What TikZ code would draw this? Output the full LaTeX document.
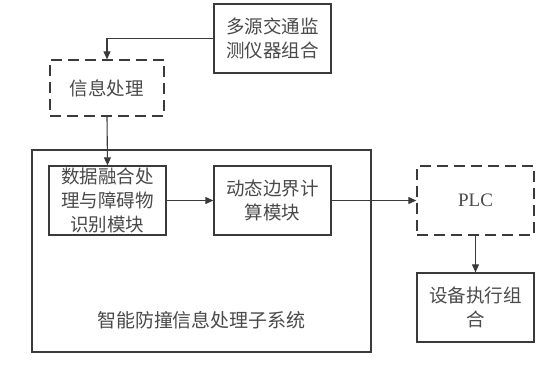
\documentclass[tikz,border=0pt]{standalone}
\usepackage{fontspec}
\newfontfamily\cjk{Noto Sans CJK SC}
\setmainfont{Liberation Serif}
\usetikzlibrary{arrows.meta}
\definecolor{linec}{HTML}{3A3A3A}
\definecolor{textc}{HTML}{4A4A4A}
\tikzset{
  box/.style={draw=linec, line width=1.3pt, minimum width=117pt, minimum height=69pt, inner sep=0pt, align=center, text=textc, font=\cjk\fontsize{18.5pt}{24pt}\selectfont},
  dbox/.style={box, dash pattern=on 11pt off 6pt},
  conn/.style={draw=linec, line width=1.1pt, -{Triangle[length=8pt,width=7pt]}}
}
\begin{document}
\begin{tikzpicture}[x=1pt,y=-1pt]
\useasboundingbox[fill=white] (0,0) rectangle (550,384);
\draw[draw=linec, line width=1.3pt] (32,150) rectangle (371,352);
\node[box] (src) at (272.5,38.5) {多源交通监\\测仪器组合};
\node[dbox, minimum width=114pt, minimum height=56pt] (info) at (107,88) {信息处理};
\node[box] (fuse) at (107.5,200.5) {数据融合处\\理与障碍物\\识别模块};
\node[box] (dyn) at (272.5,200.5) {动态边界计\\算模块};
\node[dbox, font=\fontsize{19pt}{24pt}\selectfont] (plc) at (475.5,200.5) {PLC};
\node[box] (dev) at (475.5,307.5) {设备执行组\\合};
\node[text=textc, font=\cjk\fontsize{19pt}{24pt}\selectfont, inner sep=0pt] (lbl) at (201.5,320) {智能防撞信息处理子系统};
\draw[conn] (src.west) -| (info.north);
\draw[conn] (info.south) -- (fuse.north);
\draw[conn] (fuse.east) -- (dyn.west);
\draw[conn] (dyn.east) -- (plc.west);
\draw[conn] (plc.south) -- (dev.north);
\end{tikzpicture}
\end{document}
